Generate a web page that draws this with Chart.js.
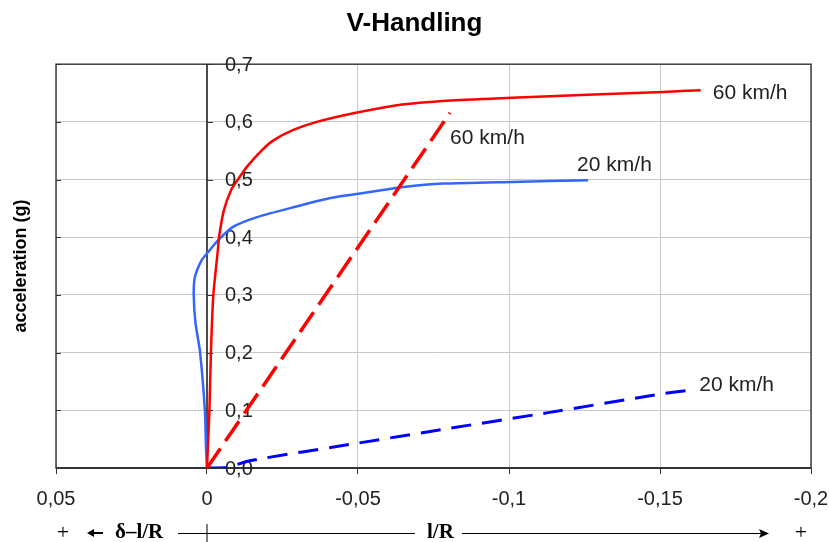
<!DOCTYPE html>
<html>
<head>
<meta charset="utf-8">
<title>V-Handling</title>
<script src="https://cdn.jsdelivr.net/npm/chart.js@4.4.1/dist/chart.umd.min.js"></script>
<style>
  body { margin: 0; background: #fff; }
  #wrap { width: 829px; height: 542px; }
</style>
</head>
<body>
<div id="wrap"><canvas id="chart" width="829" height="542"></canvas></div>
<script>
const xTicks = [0.05, 0, -0.05, -0.1, -0.15, -0.2];
const yTicks = [0, 0.1, 0.2, 0.3, 0.4, 0.5, 0.6, 0.7];

// 60 km/h, solid
const red60X = [0, -0.0008, -0.0013, -0.0021, -0.0036, -0.0040, -0.0056, -0.0080, -0.0101, -0.0132, -0.0182, -0.0220, -0.0286, -0.0364, -0.0485, -0.0630, -0.0807, -0.101, -0.151, -0.1635];
const red60Y = [0, 0.099, 0.201, 0.300, 0.378, 0.401, 0.447, 0.482, 0.499, 0.522, 0.551, 0.568, 0.586, 0.600, 0.615, 0.629, 0.637, 0.642, 0.652, 0.655];

// 60 km/h, dashed
const red60dX = [0, -0.0805];
const red60dY = [0, 0.616];

// 20 km/h, solid
const blue20X = [0, 0.0003, 0.0007, 0.0023, 0.0038, 0.0044, 0.0040, 0.0018, -0.0003, -0.0037, -0.0086, -0.0166, -0.0286, -0.0409, -0.0508, -0.0651, -0.0784, -0.101, -0.1262];
const blue20Y = [0, 0.031, 0.099, 0.201, 0.251, 0.300, 0.331, 0.360, 0.374, 0.395, 0.418, 0.435, 0.452, 0.468, 0.476, 0.487, 0.493, 0.496, 0.499];

// 20 km/h, dashed
const blue20dX = [0, -0.0065, -0.0145, -0.0498, -0.0805, -0.113, -0.150, -0.160];
const blue20dY = [0, 0.001, 0.013, 0.043, 0.069, 0.096, 0.128, 0.135];

const FONT = 'Arial, "Liberation Sans", sans-serif';
const SERIF = '"Liberation Serif", "DejaVu Serif", serif';

function toPoints(xs, ys) {
    return xs.map((v, i) => ({ x: v, y: ys[i] }));
}

function fmt(v, digits) {
    if (v === 0 && digits === undefined) return '0';
    const s = digits === undefined ? String(+v.toFixed(2)) : v.toFixed(digits);
    return s.replace('.', ',');
}

// axes, frame and y labels drawn under the curves
const axesPlugin = {
    id: 'axesPlugin',
    beforeDatasetsDraw(chart) {
        const { ctx, chartArea: a, scales: { x, y } } = chart;
        const x0 = x.getPixelForValue(0);
        ctx.save();
        ctx.strokeStyle = '#404040';
        ctx.lineWidth = 1.5;
        ctx.strokeRect(a.left, a.top, a.right - a.left, a.bottom - a.top);

        ctx.strokeStyle = '#111';
        ctx.lineWidth = 1.5;
        ctx.beginPath();
        ctx.moveTo(x0, a.top);
        ctx.lineTo(x0, a.bottom);
        ctx.stroke();

        ctx.lineWidth = 1;
        ctx.strokeStyle = '#333';
        yTicks.forEach(v => {
            const py = Math.round(y.getPixelForValue(v)) + 0.5;
            ctx.beginPath();
            ctx.moveTo(x0, py);
            ctx.lineTo(x0 + 6, py);
            ctx.moveTo(a.left, py);
            ctx.lineTo(a.left + 5, py);
            ctx.stroke();
        });

        ctx.strokeStyle = '#333';
        ctx.lineWidth = 2;
        ctx.beginPath();
        ctx.moveTo(a.left, a.bottom);
        ctx.lineTo(a.right, a.bottom);
        ctx.stroke();

        ctx.fillStyle = '#222';
        ctx.font = '20px ' + FONT;
        ctx.textAlign = 'left';
        ctx.textBaseline = 'middle';
        yTicks.forEach(v => {
            ctx.fillText(fmt(v, 1), x0 + 18, y.getPixelForValue(v) + 1);
        });
        ctx.restore();
    }
};

// series labels next to the line ends
const labelPlugin = {
    id: 'labelPlugin',
    afterDatasetsDraw(chart) {
        const { ctx } = chart;
        ctx.save();
        ctx.fillStyle = '#222';
        ctx.font = '21px ' + FONT;
        ctx.textAlign = 'left';
        ctx.textBaseline = 'middle';
        chart.data.datasets.forEach((ds, i) => {
            const pts = chart.getDatasetMeta(i).data;
            const last = pts[pts.length - 1];
            ctx.fillText(ds.label, last.x + ds.labelOffset[0], last.y + ds.labelOffset[1]);
        });
        ctx.restore();
    }
};

// "+ <- δ−l/R ---+--- l/R ---> +" line under the x axis
const signPlugin = {
    id: 'signPlugin',
    afterDraw(chart) {
        const { ctx, chartArea: a, scales: { x } } = chart;
        const x0 = x.getPixelForValue(0);
        const yy = 533;
        ctx.save();
        ctx.fillStyle = '#000';
        ctx.strokeStyle = '#000';
        ctx.textBaseline = 'middle';
        ctx.textAlign = 'center';
        ctx.font = '22px ' + SERIF;
        ctx.fillText('+', a.left + 7, yy);
        ctx.fillText('+', a.right - 10, yy);

        // left arrow
        ctx.lineWidth = 2;
        ctx.beginPath();
        ctx.moveTo(a.left + 47, yy);
        ctx.lineTo(a.left + 34, yy);
        ctx.stroke();
        ctx.beginPath();
        ctx.moveTo(a.left + 31, yy);
        ctx.lineTo(a.left + 38, yy - 4);
        ctx.lineTo(a.left + 38, yy + 4);
        ctx.closePath();
        ctx.fill();

        ctx.textAlign = 'left';
        ctx.font = 'bold 21px ' + SERIF;
        ctx.fillText('δ–l/R', a.left + 59, yy);
        ctx.fillText('l/R', 427, yy);

        ctx.lineWidth = 1;
        ctx.beginPath();
        ctx.moveTo(a.left + 122, yy + 0.5);
        ctx.lineTo(415, yy + 0.5);
        ctx.moveTo(462, yy + 0.5);
        ctx.lineTo(762, yy + 0.5);
        ctx.moveTo(x0, yy - 9);
        ctx.lineTo(x0, 542);
        ctx.stroke();
        ctx.beginPath();
        ctx.moveTo(769, yy + 0.5);
        ctx.lineTo(759, yy - 4);
        ctx.lineTo(761, yy + 0.5);
        ctx.lineTo(759, yy + 5);
        ctx.closePath();
        ctx.fill();
        ctx.restore();
    }
};

new Chart(document.getElementById('chart'), {
    type: 'line',
    data: {
        datasets: [{
            label: '60 km/h',
            data: toPoints(red60X, red60Y),
            borderColor: '#ff0000',
            borderWidth: 2.5,
            labelOffset: [12, 3]
        }, {
            label: '60 km/h',
            data: toPoints(red60dX, red60dY),
            borderColor: '#ff0000',
            borderWidth: 3.5,
            borderDash: [24, 9],
            labelOffset: [0, 26]
        }, {
            label: '20 km/h',
            data: toPoints(blue20X, blue20Y),
            borderColor: '#3366ff',
            borderWidth: 2.5,
            labelOffset: [-11, -15]
        }, {
            label: '20 km/h',
            data: toPoints(blue20dX, blue20dY),
            borderColor: '#0000ff',
            borderWidth: 3,
            borderDash: [20, 11],
            labelOffset: [9, -5]
        }]
    },
    options: {
        responsive: false,
        animation: false,
        elements: {
            point: { radius: 0 },
            line: { tension: 0.2, fill: false, borderCapStyle: 'butt' }
        },
        layout: { padding: { left: 0, right: 0, top: 0, bottom: 18 } },
        plugins: {
            legend: { display: false },
            tooltip: { enabled: false },
            title: {
                display: true,
                text: 'V-Handling',
                color: '#000',
                font: { family: FONT, size: 26, weight: 'bold' },
                padding: { top: 8, bottom: 25 }
            }
        },
        scales: {
            x: {
                type: 'linear',
                reverse: true,
                min: -0.2,
                max: 0.05,
                afterBuildTicks: s => { s.ticks = xTicks.map(v => ({ value: v })); },
                afterFit: s => { s.paddingRight = 18; s.paddingLeft = 22; },
                ticks: {
                    callback: v => fmt(v),
                    color: '#222',
                    font: { family: FONT, size: 20 },
                    padding: 13,
                    maxRotation: 0,
                    autoSkip: false
                },
                grid: {
                    color: c => (c.tick && c.tick.value === 0) ? 'rgba(0,0,0,0)' : '#c8c8c8',
                    tickColor: '#333',
                    tickLength: 6,
                    lineWidth: 1
                },
                border: { display: false }
            },
            y: {
                min: 0,
                max: 0.7,
                afterBuildTicks: s => { s.ticks = yTicks.map(v => ({ value: v })); },
                afterFit: s => { s.width = 56; },
                ticks: { display: false },
                grid: { color: '#c8c8c8', drawTicks: false, lineWidth: 1 },
                border: { display: false },
                title: {
                    display: true,
                    text: 'acceleration (g)',
                    color: '#000',
                    font: { family: FONT, size: 18, weight: 'bold' },
                    padding: { top: 10, bottom: 0 }
                }
            }
        }
    },
    plugins: [axesPlugin, labelPlugin, signPlugin]
});
</script>
</body>
</html>
